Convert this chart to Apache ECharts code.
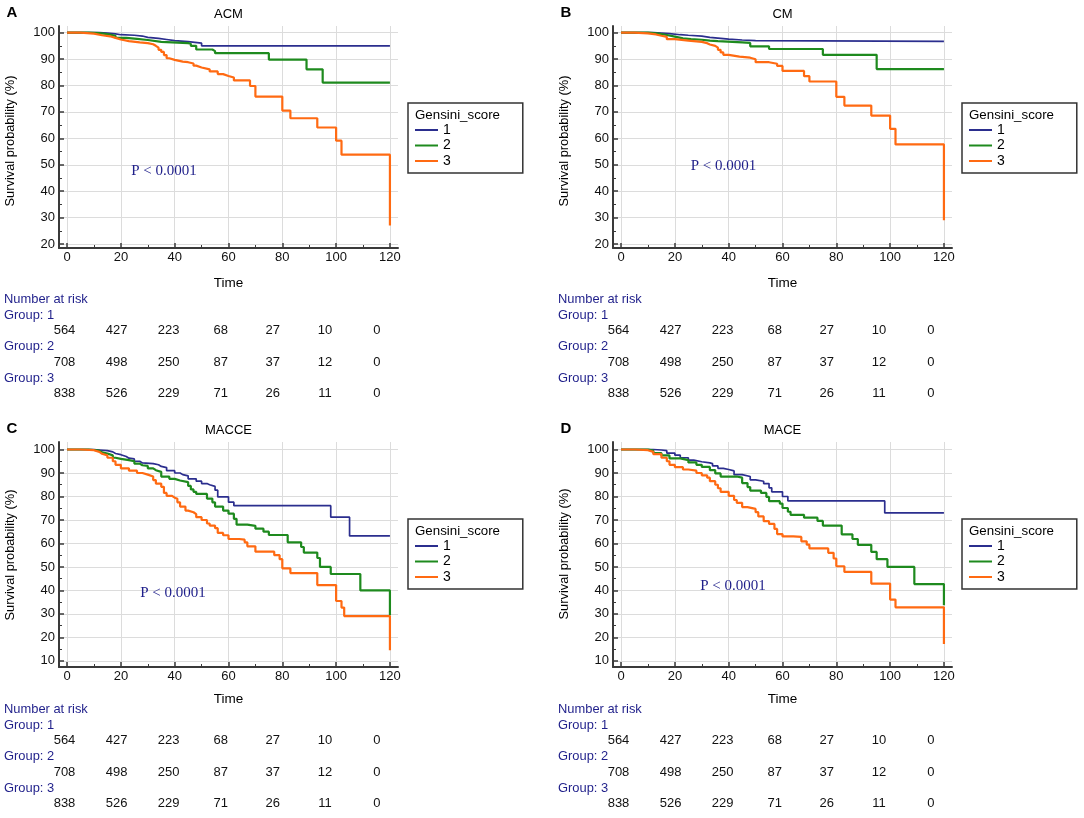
<!DOCTYPE html>
<html>
<head>
<meta charset="utf-8">
<script src="https://cdn.jsdelivr.net/npm/echarts@6/dist/echarts.min.js"></script>
<style>
html,body{margin:0;padding:0;background:#fff;}
#c{width:1084px;height:818px;}
</style>
</head>
<body>
<div id="c"></div>
<script>
// ---------- data ----------
const groupNames = ['1', '2', '3'];
const xTicks = [0, 20, 40, 60, 80, 100, 120];
const xMinorTicks = [10, 30, 50, 70, 90, 110];
const yTicksAB = [20, 30, 40, 50, 60, 70, 80, 90, 100];
const yMinorAB = [25, 35, 45, 55, 65, 75, 85, 95];
const yTicksCD = [10, 20, 30, 40, 50, 60, 70, 80, 90, 100];
const yMinorCD = [15, 25, 35, 45, 55, 65, 75, 85, 95];

const riskGroup1 = [564, 427, 223, 68, 27, 10, 0];
const riskGroup2 = [708, 498, 250, 87, 37, 12, 0];
const riskGroup3 = [838, 526, 229, 71, 26, 11, 0];

// ACM
const acm1 = [[0,100],[12,99.8],[15,99.5],[18,99.2],[20,99],[25,98.7],[28,98.2],[30,97.8],[34,97.4],[37,97],[40,96.6],[45,96],[50,95],[120,95]];
const acm2 = [[0,100],[8,99.8],[12,99.4],[15,98.8],[18,98],[22,97.6],[26,97.2],[30,96.5],[35,96],[45,95.8],[46,95],[48,93.6],[54,93],[55,92.2],[75,89.8],[89,86.1],[95,81.1],[120,81.1]];
const acm3 = [[0,100],[5,99.6],[10,99],[13,98.6],[16,98],[18,97.4],[20,96.8],[23,96.3],[27,96],[30,95.6],[32,95],[33,94.3],[34,93.5],[35,92.7],[36,91.5],[37,90.3],[38,89.7],[40,89],[43,88.8],[45,88.3],[47,87.5],[48,86.8],[50,86.1],[53,85.3],[56,84.3],[58,83.6],[60,83],[62,81.9],[68,79.8],[70,75.8],[80,70.5],[83,67.6],[93,64.1],[100,59.1],[102,53.8],[120,27]];
// CM
const cm1 = [[0,100],[12,99.8],[15,99.6],[18,99.2],[22,99],[25,98.7],[30,98.2],[33,97.8],[37,97.5],[40,97.2],[45,97],[50,96.7],[120,96.7]];
const cm2 = [[0,100],[10,99.6],[14,99.1],[17,98.5],[20,97.8],[23,97.5],[26,97.3],[30,97],[33,96.8],[36,96.3],[45,96.1],[48,94.8],[55,93.8],[75,91.6],[95,86.2],[120,86.2]];
const cm3 = [[0,100],[5,99.7],[10,99.3],[13,98.8],[15,98.4],[17,97.5],[20,97],[25,96.5],[30,96],[32,95.5],[33,95],[35,94.3],[36,93.5],[37,92.5],[38,91.6],[40,90.9],[44,90.5],[48,89.9],[50,88.8],[55,88.2],[58,87.4],[60,85.5],[68,83.5],[70,81.5],[80,75.7],[83,72.4],[93,68.6],[100,63.6],[102,57.7],[120,29]];
// MACCE
const macce1 = [[0,100],[10,99.8],[12,99.5],[15,99],[17,98.3],[18,97.8],[20,97],[22,96.3],[23,96],[25,95],[27,94.3],[28,94],[32,93.5],[34,92.8],[35,92.3],[37,91],[40,90],[42,89.3],[43,88.8],[45,87.5],[48,86.5],[50,85.5],[52,85],[53,84.3],[55,82.7],[56,79.8],[60,77.6],[62,76.1],[98,71.2],[105,63.2],[120,63.2]];
const macce2 = [[0,100],[8,99.8],[10,99.5],[12,98.8],[13,98.3],[15,97.5],[17,96.5],[18,96],[20,95.5],[23,95],[25,94],[27,93.3],[28,93],[30,92],[32,91.2],[33,90.5],[35,88.5],[38,87.5],[40,86.8],[42,86.1],[45,84.5],[46,83],[47,82],[48,81.1],[52,79.1],[54,77.5],[55,75.7],[58,74],[60,72.7],[62,70.5],[63,68],[67,67.5],[70,66.3],[73,65],[75,63.6],[82,60.5],[87,58.5],[88,56.1],[93,53.8],[94,50],[98,47],[109,40],[120,29.4]];
const macce3 = [[0,100],[5,99.7],[10,99],[12,98.2],[13,97.5],[15,96.5],[17,95],[18,93.5],[20,92],[23,91],[26,90],[28,89.3],[30,88.5],[32,87],[33,85.5],[35,84.1],[36,81.5],[37,80.3],[39,79.5],[40,79],[41,77.5],[42,75.7],[44,74],[45,73.3],[47,72.5],[48,71.2],[50,70],[52,68.5],[53,67.6],[55,66.5],[56,64.5],[58,63.5],[60,61.9],[64,61.6],[66,60.5],[67,58.8],[70,56.5],[77,55],[79,53.3],[80,49.4],[83,47.4],[93,42.3],[100,35.5],[102,32.7],[103,29.1],[120,14.5]];
// MACE
const mace1 = [[0,100],[12,99.8],[15,99.5],[17,98.5],[20,97.6],[22,96.5],[25,95.5],[27,94.8],[30,94.3],[33,94],[34,93],[36,92],[38,91.5],[40,90.9],[42,89.3],[45,88.5],[48,87.1],[50,86.5],[53,85.5],[55,83.7],[56,82],[60,80],[62,78.1],[98,73],[120,73]];
const mace2 = [[0,100],[10,99.5],[12,98.5],[15,97.5],[18,96.2],[22,95.5],[25,94.5],[28,93.5],[30,92.6],[33,91.2],[35,89.8],[37,88.5],[43,88],[45,85.7],[47,84],[48,82.5],[52,81.5],[54,79.8],[55,78],[59,77],[60,75.1],[62,73.5],[63,72.2],[68,71],[73,69.6],[75,67.6],[82,63.9],[86,61.9],[88,59.4],[93,56.4],[95,53.3],[99,50],[109,42.7],[120,33.7]];
const mace3 = [[0,100],[5,99.7],[10,99],[12,98],[15,96.5],[17,95],[18,93.5],[20,92.5],[23,91.5],[25,91],[28,90],[30,89],[32,88],[33,86.5],[35,85],[36,83.5],[37,82],[40,80.3],[42,78.5],[43,77.3],[45,75.5],[47,74.7],[50,73.3],[51,71.5],[53,69.5],[55,68.3],[57,66.2],[58,64],[60,63],[64,62.8],[67,60.9],[69,59.5],[70,57.9],[77,56],[79,53.6],[80,50.3],[83,47.9],[93,42.9],[100,36.1],[102,32.8],[120,17.2]];

const panelLetters = ['A', 'B', 'C', 'D'];
const panelTitles = ['ACM', 'CM', 'MACCE', 'MACE'];
const pText = 'P < 0.0001';

// ---------- layout / styles ----------
const SANS = '"Liberation Sans", Arial, sans-serif';
const SERIF = '"Liberation Serif", "Times New Roman", serif';
const colors = ['#2b2e8e', '#1e8a1e', '#ff6a12'];
const widths = [1.7, 2.2, 2.2];
const axisColor = '#3a3a3a';
const navy = '#1f1f8a';
const lineIcon = 'path://M0,0L23,0L23,2L0,2Z';

const panels = [
  { series: [acm1, acm2, acm3], dx: 0, dy: 0, grid: {left: 59, top: 26, width: 339, height: 222}, y: [18.5, 102.5], yt: yTicksAB, ym: yMinorAB,
    titleY: 14, nameY: 141, timeY: 283, pPos: [164, 171], legTop: 103, letterY: 12.5 },
  { series: [cm1, cm2, cm3], dx: 554, dy: 0, grid: {left: 613, top: 26, width: 339, height: 222}, y: [18.5, 102.5], yt: yTicksAB, ym: yMinorAB,
    titleY: 14, nameY: 141, timeY: 283, pPos: [723.5, 166], legTop: 103, letterY: 12.5 },
  { series: [macce1, macce2, macce3], dx: 0, dy: 410, grid: {left: 59, top: 442, width: 339, height: 225}, y: [7.4, 103.2], yt: yTicksCD, ym: yMinorCD,
    titleY: 430, nameY: 555, timeY: 699, pPos: [173, 593], legTop: 519, letterY: 428.5 },
  { series: [mace1, mace2, mace3], dx: 554, dy: 410, grid: {left: 613, top: 442, width: 339, height: 225}, y: [7.4, 103.2], yt: yTicksCD, ym: yMinorCD,
    titleY: 430, nameY: 554, timeY: 699, pPos: [733, 586], legTop: 519, letterY: 428.5 }
];

const grids = [], xAxes = [], yAxes = [], series = [], legends = [], graphics = [];

panels.forEach((p, i) => {
  grids.push(Object.assign({ outerBoundsMode: 'none', containLabel: false }, p.grid));
  // main x axis
  xAxes.push({
    gridIndex: i, type: 'value', min: -3, max: 123, position: 'bottom',
    axisLine: { show: true, onZero: false, lineStyle: { color: axisColor, width: 2 } },
    axisTick: { show: true, inside: true, length: 5, customValues: xTicks, lineStyle: { color: axisColor, width: 1.5 } },
    axisLabel: { show: true, customValues: xTicks, margin: 3, fontSize: 13, color: '#111', fontFamily: SANS },
    splitLine: { show: true, lineStyle: { color: '#dcdcdc', width: 1 } },
    minorTick: { show: false }
  });
  // minor x ticks
  xAxes.push({
    gridIndex: i, type: 'value', min: -3, max: 123, position: 'bottom',
    axisLine: { show: false, onZero: false },
    axisTick: { show: true, inside: true, length: 3, customValues: xMinorTicks, lineStyle: { color: axisColor, width: 1 } },
    axisLabel: { show: false },
    splitLine: { show: false }
  });
  yAxes.push({
    gridIndex: i, type: 'value', min: p.y[0], max: p.y[1], position: 'left',
    axisLine: { show: true, onZero: false, lineStyle: { color: axisColor, width: 2 } },
    axisTick: { show: true, inside: true, length: 5, customValues: p.yt, lineStyle: { color: axisColor, width: 1.5 } },
    axisLabel: { show: true, customValues: p.yt, margin: 4, fontSize: 13, color: '#111', fontFamily: SANS },
    splitLine: { show: true, lineStyle: { color: '#dcdcdc', width: 1 } }
  });
  yAxes.push({
    gridIndex: i, type: 'value', min: p.y[0], max: p.y[1], position: 'left',
    axisLine: { show: false, onZero: false },
    axisTick: { show: true, inside: true, length: 3, customValues: p.ym, lineStyle: { color: axisColor, width: 1 } },
    axisLabel: { show: false },
    splitLine: { show: false }
  });
  p.series.forEach((d, g) => {
    series.push({
      type: 'line', name: groupNames[g], xAxisIndex: 2 * i, yAxisIndex: 2 * i,
      step: 'end', symbol: 'none', showSymbol: false, data: d, silent: true,
      lineStyle: { color: colors[g], width: widths[g] },
      itemStyle: { color: colors[g] },
      z: 3 + g
    });
  });
  const legLeft = 408 + p.dx;
  legends.push({
    data: groupNames.map(n => ({ name: n, icon: lineIcon })), orient: 'vertical', left: legLeft, top: p.legTop,
    padding: [20, 72, 5, 7], itemWidth: 23, itemHeight: 15, itemGap: 1.5,
    borderColor: '#333', borderWidth: 1.5, backgroundColor: 'transparent',
    textStyle: { fontSize: 14, color: '#000', fontFamily: SANS },
    selectedMode: false, z: 2
  });
  graphics.push({ type: 'text', z: 100, x: legLeft + 7, y: p.legTop + 12, style: { text: 'Gensini_score', fontSize: 13.3, fontFamily: SANS, fill: '#000', align: 'left', verticalAlign: 'middle' } });
  // texts
  graphics.push({ type: 'text', z: 100, x: 12 + p.dx, y: p.letterY, style: { text: panelLetters[i], fontSize: 15, fontWeight: 'bold', fontFamily: SANS, fill: '#000', align: 'center', verticalAlign: 'middle' } });
  graphics.push({ type: 'text', z: 100, x: 228.5 + p.dx, y: p.titleY, style: { text: panelTitles[i], fontSize: 13, fontFamily: SANS, fill: '#000', align: 'center', verticalAlign: 'middle' } });
  graphics.push({ type: 'text', z: 100, x: 10.5 + p.dx, y: p.nameY, rotation: Math.PI / 2, style: { text: 'Survival probability (%)', fontSize: 12.8, fontFamily: SANS, fill: '#000', align: 'center', verticalAlign: 'middle' } });
  graphics.push({ type: 'text', z: 100, x: 228.5 + p.dx, y: p.timeY, style: { text: 'Time', fontSize: 13.5, fontFamily: SANS, fill: '#000', align: 'center', verticalAlign: 'middle' } });
  graphics.push({ type: 'text', z: 100, x: p.pPos[0], y: p.pPos[1], style: { text: pText, fontSize: 15, fontFamily: SERIF, fill: navy, align: 'center', verticalAlign: 'middle' } });
  // number at risk table
  const rowY = [299.3, 315, 330.7, 346.7, 362.3, 378, 393.7].map(v => v + p.dy);
  const lx = 4 + p.dx;
  const labels = ['Number at risk', 'Group: 1', null, 'Group: 2', null, 'Group: 3', null];
  const rows = [null, null, riskGroup1, null, riskGroup2, null, riskGroup3];
  labels.forEach((t, r) => {
    if (t) graphics.push({ type: 'text', z: 100, x: lx, y: rowY[r], style: { text: t, fontSize: 12.9, fontFamily: SANS, fill: navy, align: 'left', verticalAlign: 'middle' } });
    if (rows[r]) rows[r].forEach((n, k) => {
      graphics.push({ type: 'text', z: 100, x: 64.5 + 52.08 * k + p.dx, y: rowY[r], style: { text: String(n), fontSize: 13, fontFamily: SANS, fill: '#111', align: 'center', verticalAlign: 'middle' } });
    });
  });
});

const chart = echarts.init(document.getElementById('c'), null, { renderer: 'canvas' });
chart.setOption({
  backgroundColor: '#ffffff',
  animation: false,
  grid: grids,
  xAxis: xAxes,
  yAxis: yAxes,
  legend: legends,
  series: series,
  graphic: { elements: graphics, z: 100 }
});
</script>
</body>
</html>
